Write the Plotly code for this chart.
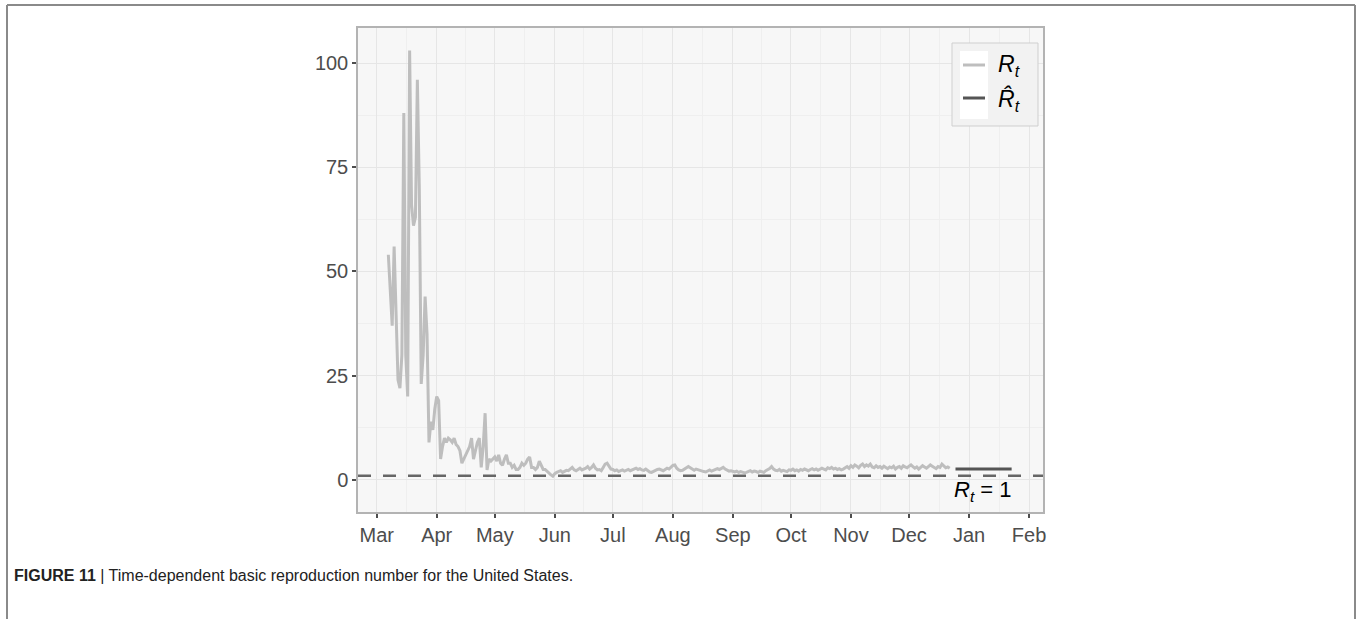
import pandas as pd
import plotly.graph_objects as go

# Daily time-dependent reproduction number R_t (United States), starting 2020-03-07
rt_start = "2020-03-07"
rt_values = [
    54, 44, 37, 56, 40, 24, 22, 30, 88, 30,
    20, 103, 66, 61, 63, 96, 70, 23, 30, 44,
    35, 9, 14, 12, 17, 20, 19, 5, 8, 10,
    9, 10, 9.6, 9, 10, 8.5, 8, 7, 4, 5,
    6, 7, 8, 10, 5, 7, 9, 10, 3, 8,
    16, 2.4, 5, 4.5, 5, 5.5, 4.5, 6, 4, 3.5,
    5, 6, 4, 4, 3, 3.5, 2.5, 2.5, 3, 4,
    3.5, 4, 5, 5.5, 3, 3, 2.5, 3, 4.5, 3.5,
    2.5, 2.5, 2, 1.5, 1.2, 0.9, 1.5, 1.8, 2, 2.2,
    1.8, 2, 2.3, 2.2, 2.6, 3, 2.4, 2.2, 2.5, 2.8,
    2.4, 2.6, 2.8, 3.2, 2.6, 3, 3.6, 2.8, 2.4, 2.5,
    2.2, 3, 3.8, 4, 3.2, 2.6, 2.5, 2.2, 2.4, 2,
    2.2, 2.4, 2.1, 2.3, 2.5, 2.2, 2.4, 2.6, 2.8, 2.5,
    2.7, 2.4, 2.3, 2.6, 2.2, 1.9, 1.8, 2.1, 2.3, 2.5,
    2.6, 2.4, 2.2, 2.5, 2.8, 2.6, 3, 3.5, 3.6, 2.8,
    2.4, 2.2, 2.3, 2.6, 2.9, 3.2, 2.9, 2.5, 2.3, 2.6,
    2.4, 2.3, 2.1, 2.0, 1.9, 2.2, 2.4, 2.1, 2.3, 2.5,
    2.7, 2.5, 2.8, 3, 2.6, 2.3, 2.1, 2.2, 2.0, 1.9,
    2.1, 1.8, 2.0, 1.9, 1.7, 1.8, 2.0, 2.2, 1.9, 2.1,
    2.0, 1.8, 2.1, 1.9, 1.8, 2.2, 2.4, 2.7, 3.2, 2.6,
    2.3, 2.2, 2.5, 2.1, 2.3, 2.2, 2.0, 2.4, 2.3, 2.6,
    2.2, 2.4, 2.1, 2.5, 2.3, 2.6, 2.4, 2.2, 2.5, 2.7,
    2.4, 2.6, 2.3, 2.5, 2.8, 2.6, 2.4, 2.9, 2.7, 3.0,
    2.6, 2.8, 2.5, 2.7, 2.4, 2.6, 2.9, 3.2, 2.8, 3.4,
    3.0, 3.6, 3.3, 2.9, 3.5, 3.8, 3.2, 3.6, 3.3, 3.8,
    3.1, 2.9, 3.4, 3.0, 3.2, 2.8, 3.3, 3.0, 2.7, 3.1,
    2.9, 3.3, 2.6, 3.0, 3.2, 2.8, 3.4, 3.1, 2.9, 3.3,
    3.6, 3.2, 2.8, 3.1, 2.6, 3.0, 3.4, 3.1, 2.8, 3.2,
    3.6, 3.3, 3.0, 2.7, 3.2, 3.0, 3.8, 3.3, 2.9, 3.1,
    2.8,
]
rt_dates = pd.date_range(rt_start, periods=len(rt_values), freq="D")

# Estimated basic reproduction number over the forecast window
rhat_dates = ["2020-12-25", "2021-01-23"]
rhat_values = [2.6, 2.6]

threshold = 1
month_ticks = ["2020-03-01", "2020-04-01", "2020-05-01", "2020-06-01", "2020-07-01",
               "2020-08-01", "2020-09-01", "2020-10-01", "2020-11-01", "2020-12-01",
               "2021-01-01", "2021-02-01"]
month_labels = ["Mar", "Apr", "May", "Jun", "Jul", "Aug", "Sep", "Oct", "Nov", "Dec", "Jan", "Feb"]
y_ticks = [0, 25, 50, 75, 100]

# minor gridlines half-way between month breaks
mt = pd.to_datetime(month_ticks)
month_minor = [(mt[i] + (mt[i + 1] - mt[i]) / 2) for i in range(len(mt) - 1)]
month_minor = [mt[0] - (mt[1] - mt[0]) / 2] + month_minor

# page geometry (pixels)
W, H = 1357, 619
PL, PR, PT, PB = 358, 1043, 28, 512


def px(x):
    return (x - PL) / (PR - PL)


def py(y):
    return (PB - y) / (PB - PT)


FONT = "Liberation Sans, Arial, Helvetica, sans-serif"
TICK_COL = "#4d4d4d"
RT_COL = "#bebebe"
RHAT_COL = "#555555"

fig = go.Figure()
fig.add_trace(go.Scatter(x=rt_dates, y=rt_values, mode="lines",
                         line=dict(color=RT_COL, width=3), showlegend=False,
                         hoverinfo="skip"))
fig.add_trace(go.Scatter(x=rhat_dates, y=rhat_values, mode="lines",
                         line=dict(color=RHAT_COL, width=3), showlegend=False,
                         hoverinfo="skip"))

shapes = []
# dashed reference line R_t = 1
shapes.append(dict(type="line", xref="paper", yref="y", x0=0, x1=1, y0=threshold, y1=threshold,
                   line=dict(color="#666666", width=2.5, dash="13px,12px"), layer="above"))

# legend box drawn by hand
LX0, LX1, LY0, LY1 = 952, 1038, 43, 126
shapes.append(dict(type="rect", xref="paper", yref="paper", x0=px(LX0), x1=px(LX1),
                   y0=py(LY1), y1=py(LY0), fillcolor="#f2f2f2",
                   line=dict(color="#cfcfcf", width=1), layer="above"))
shapes.append(dict(type="rect", xref="paper", yref="paper", x0=px(960), x1=px(988),
                   y0=py(119), y1=py(51), fillcolor="#ffffff",
                   line=dict(width=0), layer="above"))
shapes.append(dict(type="line", xref="paper", yref="paper", x0=px(963), x1=px(985),
                   y0=py(65), y1=py(65), line=dict(color=RT_COL, width=3), layer="above"))
shapes.append(dict(type="line", xref="paper", yref="paper", x0=px(963), x1=px(985),
                   y0=py(98), y1=py(98), line=dict(color=RHAT_COL, width=3), layer="above"))

# outer figure frame (top, left, right)
FR = dict(color="#8a8a8a", width=2)
shapes.append(dict(type="line", xref="paper", yref="paper", x0=px(7), x1=px(1355),
                   y0=py(5), y1=py(5), line=FR))
shapes.append(dict(type="line", xref="paper", yref="paper", x0=px(7), x1=px(7),
                   y0=py(5), y1=py(H + 2), line=FR))
shapes.append(dict(type="line", xref="paper", yref="paper", x0=px(1355), x1=px(1355),
                   y0=py(5), y1=py(H + 2), line=FR))

annotations = [
    dict(xref="paper", yref="paper", x=px(996), y=py(65), xanchor="left", yanchor="middle",
         text="<i>R</i><sub><i>t</i></sub>", showarrow=False,
         font=dict(family=FONT, size=23, color="#000000")),
    dict(xref="paper", yref="paper", x=px(996), y=py(100), xanchor="left", yanchor="middle",
         text="<i>R\u0302</i><sub><i>t</i></sub>", showarrow=False,
         font=dict(family=FONT, size=23, color="#000000")),
    dict(xref="x", yref="y", x="2021-01-08", y=-2.6, xanchor="center", yanchor="middle",
         text="<i>R</i><sub><i>t</i></sub> = 1", showarrow=False,
         font=dict(family=FONT, size=22, color="#000000")),
    dict(xref="paper", yref="paper", x=px(12), y=py(575), xanchor="left", yanchor="middle",
         text="<b>FIGURE 11</b> | Time-dependent basic reproduction number for the United States.",
         showarrow=False,
         font=dict(family=FONT, size=16, color="#222222")),
]

fig.update_layout(
    width=W, height=H,
    margin=dict(l=PL, r=W - PR, t=PT, b=H - PB, pad=0),
    paper_bgcolor="#ffffff", plot_bgcolor="#f7f7f7",
    shapes=shapes, annotations=annotations, showlegend=False,
    font=dict(family=FONT, color=TICK_COL),
)
fig.update_xaxes(
    type="date", range=["2020-02-20 08:00", "2021-02-08 05:00"],
    tickmode="array", tickvals=month_ticks, ticktext=month_labels,
    ticks="outside", ticklen=4, tickwidth=1.5, tickcolor="#4d4d4d",
    tickfont=dict(family=FONT, size=20, color=TICK_COL),
    showgrid=True, gridcolor="#e6e6e6", gridwidth=1,
    minor=dict(tickmode="array", tickvals=month_minor, showgrid=True,
               gridcolor="#efefef", gridwidth=1, ticks=""),
    showline=True, linecolor="#b3b3b3", linewidth=1.5, mirror=True, zeroline=False,
)
fig.update_yaxes(
    range=[-7.7, 108.4], tickmode="array", tickvals=y_ticks,
    ticks="outside", ticklen=4, tickwidth=1.5, tickcolor="#4d4d4d",
    tickfont=dict(family=FONT, size=20, color=TICK_COL),
    showgrid=True, gridcolor="#e6e6e6", gridwidth=1,
    minor=dict(tickmode="array", tickvals=[12.5, 37.5, 62.5, 87.5], showgrid=True,
               gridcolor="#efefef", gridwidth=1, ticks=""),
    showline=True, linecolor="#b3b3b3", linewidth=1.5, mirror=True, zeroline=False,
)

fig.write_html("out.html")
